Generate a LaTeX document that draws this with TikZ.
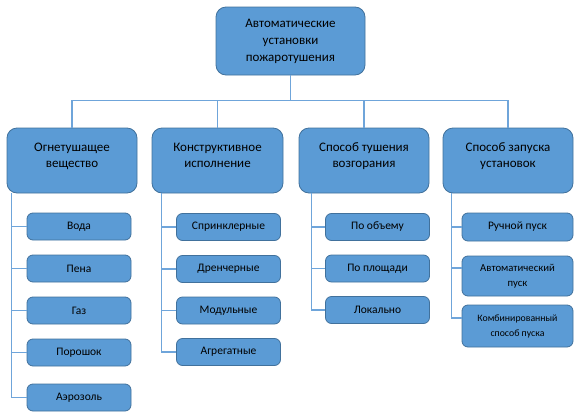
\documentclass[tikz,border=0pt]{standalone}
\usepackage{fontspec}
\setmainfont{Carlito}
\usepackage{xcolor}
\usetikzlibrary{calc}

\definecolor{boxfill}{HTML}{5B9BD5}
\definecolor{boxline}{HTML}{41719C}
\definecolor{linkline}{HTML}{6FA5DA}

\begin{document}
\begin{tikzpicture}[x = 1pt, y = -1pt,
	box/.style = {draw = boxline, fill = boxfill, line width = 0.8pt, rounded corners = 10pt,
		align = center, font = \fontsize{13}{16}\selectfont, inner sep = 0pt},
	subbox/.style = {box, rounded corners = 6pt, font = \fontsize{11.5}{14}\selectfont},
	link/.style = {draw = linkline, line width = 1.6pt}]
					\useasboundingbox (0,0) rectangle (579,418);

					\begin{scope}
						\node [box, minimum width = 149pt, minimum height = 68pt, font = \fontsize{13}{17}\selectfont] (top) at (290.5,41) {Автоматические\\установки\\пожаротушения};

						\node [box, minimum width = 130pt, minimum height = 65pt] (agent) at (72,160.5) {Огнетушащее\\вещество\vphantom{g}\\[-6pt]};
						\node [box, minimum width = 131pt, minimum height = 65pt] (design) at (217.5,160.5) {Конструктивное\\исполнение\\[-6pt]};
						\node [box, minimum width = 130pt, minimum height = 65pt] (method) at (364,160.5) {Способ тушения\\возгорания\\[-6pt]};
						\node [box, minimum width = 130pt, minimum height = 65pt] (start) at (508,160.5) {Способ запуска\\установок\\[-6pt]};
					\end{scope}

					\begin{scope}[every node/.style = {subbox, minimum width = 104pt, minimum height = 27pt}]
						\node (water) at (79,226.5) {Вода};
						\node (foam) at (79,268.5) {Пена};
						\node (gas) at (79,310.5) {Газ};
						\node (powder) at (79,352.5) {Порошок};
						\node (aerosol) at (79,397.5) {Аэрозоль};

						\node (sprinkler) at (228.5,227) {Спринклерные};
						\node (drencher) at (228.5,269) {Дренчерные};
						\node (modular) at (228.5,310.5) {Модульные};
						\node (aggregate) at (228.5,352) {Агрегатные};

						\node (volume) at (377.5,227) {По объему};
						\node (area) at (377.5,268.5) {По площади};
						\node (local) at (377.5,310) {Локально};
					\end{scope}

					\begin{scope}[every node/.style = {subbox, minimum width = 111pt}]
						\node [minimum height = 28pt] (manual) at (517.5,227) {Ручной пуск};
						\node [minimum height = 40pt, font = \fontsize{10.7}{15}\selectfont] (auto) at (517.5,276) {Автоматический\\пуск};
						\node [minimum height = 42pt, font = \fontsize{9.8}{15}\selectfont] (combined) at (517.5,326) {Комбинированный\\способ пуска};
					\end{scope}

					\begin{scope}[link]
						\draw (top.south) -- ++(0,25) coordinate (bus);
						\draw (bus) -| (agent.north);
						\draw (bus) -| (design.north);
						\draw (bus) -| (method.north);
						\draw (bus) -| (start.north);

						\foreach \child in {water, foam, gas, powder, aerosol}
							\draw ([xshift = 5pt]agent.south west) |- (\child.west);
						\foreach \child in {sprinkler, drencher, modular, aggregate}
							\draw ([xshift = 10pt]design.south west) |- (\child.west);
						\foreach \child in {volume, area, local}
							\draw ([xshift = 13pt]method.south west) |- (\child.west);
						\draw ([xshift = 9pt]start.south west) |- (manual.west);
						\draw ([xshift = 9pt]start.south west) |- ([yshift = 8pt]auto.west);
						\draw ([xshift = 9pt]start.south west) |- ([yshift = 8pt]combined.west);
					\end{scope}
				\end{tikzpicture}
\end{document}
